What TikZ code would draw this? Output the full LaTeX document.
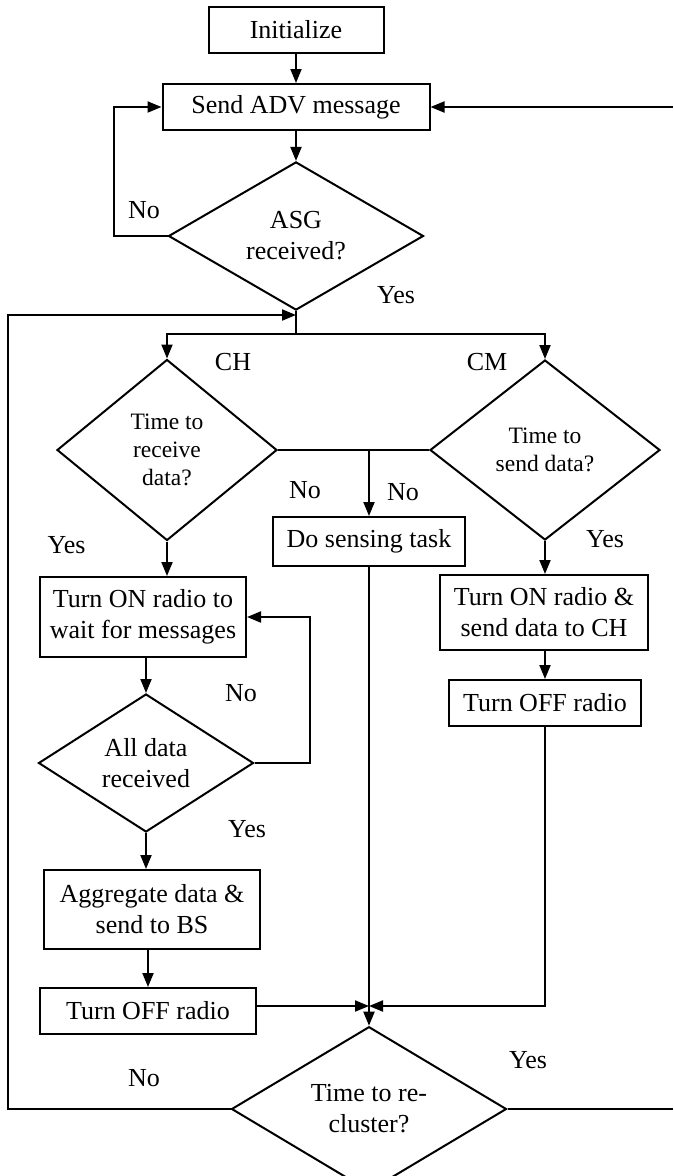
\documentclass[tikz,border=0pt]{standalone}
\usepackage{fontspec}
\setmainfont{Liberation Serif}
\usetikzlibrary{shapes.geometric,arrows.meta}
\tikzstyle{procbox}=[rectangle,draw=black,line width=2pt,inner sep=0pt,
                     align=center,font=\fontsize{26}{31}\selectfont]
\tikzstyle{decision}=[diamond,draw=black,line width=2pt,inner sep=0pt,
                      align=center,font=\fontsize{26}{31}\selectfont]
\tikzstyle{smalltext}=[font=\fontsize{23.5}{28}\selectfont]
\tikzstyle{lbl}=[inner sep=0pt,font=\fontsize{26}{31}\selectfont]
\tikzstyle{flow}=[line width=2pt,-{Triangle[length=14pt,width=11pt]}]
\tikzstyle{wire}=[line width=2pt]

\begin{document}
\begin{tikzpicture}[x=1pt,y=-1pt]
    \useasboundingbox (0,0) rectangle (673,1176);
    % top part
    \node (init) at (296,30) [procbox,minimum width=175pt,minimum height=46pt]{Initialize};
    \node (adv) at (296,107) [procbox,minimum width=267pt,minimum height=46pt]{Send ADV message};
    \node (asg) at (296,236) [decision,minimum width=255pt,minimum height=147pt]{ASG\\received?};
    \coordinate (j1) at (296,315);
    \coordinate (split) at (296,334);
    \coordinate (edgeT) at (673,107);
    % CH and CM branches
    \node (ch) at (167,450) [decision,smalltext,minimum width=220pt,minimum height=181pt]{Time to\\receive\\data?};
    \node (cm) at (545,450) [decision,smalltext,minimum width=230pt,minimum height=180pt]{Time to\\send data?};
    \node (sense) at (369,541.5) [procbox,minimum width=192pt,minimum height=49pt]{Do sensing task};
    \node (ton) at (143,617) [procbox,minimum width=206pt,minimum height=80pt]{Turn ON radio to\\wait for messages};
    \node (alld) at (146,763) [decision,minimum width=215pt,minimum height=138pt]{All data\\received};
    \node (agg) at (152,909.5) [procbox,minimum width=216pt,minimum height=79pt]{Aggregate data \&\\send to BS};
    \node (toff1) at (148,1011) [procbox,minimum width=216pt,minimum height=46pt]{Turn OFF radio};
    \node (son) at (544,612.5) [procbox,minimum width=208pt,minimum height=75pt]{Turn ON radio \&\\send data to CH};
    \node (toff2) at (545,703) [procbox,minimum width=192pt,minimum height=46pt]{Turn OFF radio};
    % bottom
    \coordinate (jn) at (369,1006);
    \node (recl) at (369,1109) [decision,minimum width=275pt,minimum height=134pt]{Time to re-\\cluster?};
    \coordinate (lft) at (8,1109);
    \coordinate (edgeB) at (673,1109);

    \draw[flow] (init) -- (adv);
    \draw[flow] (adv) -- (asg);
    \draw[flow] (asg.west) -- ++(-54,0) |- (adv.west);
    \draw[flow] (edgeT) -- (adv.east);
    \draw[wire] (asg.south) -- (split);
    \draw[flow] (split) -| (ch.north);
    \draw[flow] (split) -| (cm.north);
    \draw[wire] (ch.east) -- (cm.west);
    \draw[flow] (sense.north |- ch.east) -- (sense.north);
    \draw[flow] (ch.south) -- (ch.south |- ton.north);
    \draw[flow] (alld.north |- ton.south) -- (alld.north);
    \draw[flow] (alld.east) -- ++(55,0) |- (ton.east);
    \draw[flow] (alld.south) -- (alld.south |- agg.north);
    \draw[flow] (toff1.north |- agg.south) -- (toff1.north);
    \draw[flow] (cm.south) -- (cm.south |- son.north);
    \draw[flow] (toff2.north |- son.south) -- (toff2.north);
    \draw[wire] (sense.south) -- (jn);
    \draw[flow] (jn) -- (recl.north);
    \draw[flow] (toff1.east |- jn) -- (jn);
    \draw[flow] (toff2.south) |- (jn);
    \draw[flow] (recl.west) -- (lft) |- (j1);
    \draw[wire] (recl.east) -- (edgeB);

    % branch labels
    \node (l1) at (144,210) [lbl]{No};
    \node (l2) at (396,295) [lbl]{Yes};
    \node (l3) at (233,362) [lbl]{CH};
    \node (l4) at (487,362) [lbl]{CM};
    \node (l5) at (305,490) [lbl]{No};
    \node (l6) at (403,492) [lbl]{No};
    \node (l7) at (66.5,545) [lbl]{Yes};
    \node (l8) at (605,539) [lbl]{Yes};
    \node (l9) at (241,693) [lbl]{No};
    \node (l10) at (247,829) [lbl]{Yes};
    \node (l11) at (528,1060) [lbl]{Yes};
    \node (l12) at (144,1078) [lbl]{No};
\end{tikzpicture}
\end{document}
